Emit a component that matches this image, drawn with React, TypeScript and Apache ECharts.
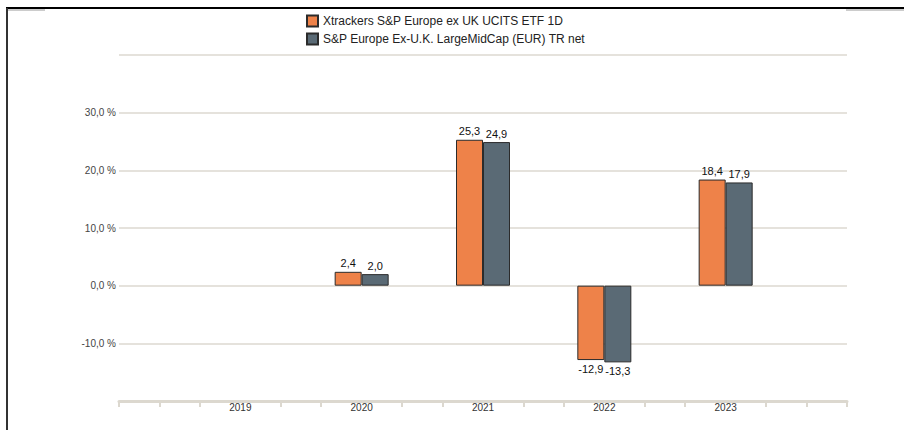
import React, { useEffect, useRef } from "react";
import * as echarts from "echarts";

const categories = ["", "2019", "2020", "2021", "2022", "2023", ""];
const seriesNames = [
  "Xtrackers S&P Europe ex UK UCITS ETF 1D",
  "S&P Europe Ex-U.K. LargeMidCap (EUR) TR net",
];
const etfValues: (number | null)[] = [null, null, 2.4, 25.3, -12.9, 18.4, null];
const indexValues: (number | null)[] = [null, null, 2.0, 24.9, -13.3, 17.9, null];
const colors = ["#ee8249", "#5a6a75"];
const yMin = -20;
const yMax = 40;
const yInterval = 10;
const tickSlots = Array.from({ length: 19 }, (_, i) => String(i));

const FONT = "'Liberation Sans', Arial, Helvetica, sans-serif";

const fmt = (v: number) => v.toFixed(1).replace(".", ",");

function makeData(vals: (number | null)[]) {
  return vals.map((v) =>
    v === null
      ? null
      : { value: v, label: { position: v < 0 ? "bottom" : "top" } }
  );
}

export default function App() {
  const ref = useRef<HTMLDivElement>(null);
  useEffect(() => {
    if (!ref.current) return;
    const chart = echarts.init(ref.current, undefined, { renderer: "svg" });
    const mkSeries = (i: number, vals: (number | null)[]) => ({
      name: seriesNames[i],
      type: "bar",
      xAxisIndex: 0,
      yAxisIndex: 0,
      data: makeData(vals),
      barWidth: 27,
      barGap: "0%",
      itemStyle: { color: colors[i], borderColor: "#2b2b2b", borderWidth: 1 },
      label: {
        show: true,
        distance: 3,
        color: "#111",
        fontSize: 11,
        fontFamily: FONT,
        formatter: (p: any) => fmt(p.value),
      },
    });
    chart.setOption({
      animation: false,
      textStyle: { fontFamily: FONT },
      legend: {
        orient: "vertical",
        left: 301,
        top: 9,
        itemWidth: 11,
        itemHeight: 11,
        itemGap: 4,
        icon: "rect",
        textStyle: { fontSize: 12, color: "#222", fontFamily: FONT, lineHeight: 14 },
        data: seriesNames,
      },
      grid: { left: 119, right: 57, top: 55, bottom: 29, containLabel: false },
      xAxis: [
        {
          type: "category",
          data: categories,
          boundaryGap: false,
          axisLine: { show: true, onZero: false, lineStyle: { color: "#dcd8cf", width: 3 } },
          axisTick: { show: false },
          axisLabel: { margin: 1, fontSize: 10, color: "#333", fontFamily: FONT, interval: 0 },
          splitLine: { show: false },
        },
        {
          type: "category",
          data: tickSlots,
          boundaryGap: false,
          position: "bottom",
          axisLine: { show: false, onZero: false },
          axisLabel: { show: false },
          axisTick: {
            show: true,
            inside: false,
            length: 6,
            interval: (index: number) => index % 3 !== 0 || index === 0 || index === 18,
            lineStyle: { color: "#dcd8cf", width: 2 },
          },
          splitLine: { show: false },
        },
      ],
      yAxis: {
        type: "value",
        min: yMin,
        max: yMax,
        interval: yInterval,
        axisLine: { show: false },
        axisTick: { show: false },
        axisLabel: {
          margin: 3,
          fontSize: 10,
          color: "#444",
          fontFamily: FONT,
          formatter: (v: number) => (v === yMin || v === yMax ? "" : fmt(v) + " %"),
        },
        splitLine: { show: true, lineStyle: { color: "#e5e2dc", width: 2 } },
      },
      series: [mkSeries(0, etfValues), mkSeries(1, indexValues)],
      graphic: [
        { type: "line", shape: { x1: 6, y1: 8, x2: 904, y2: 8 }, style: { stroke: "#000", lineWidth: 2 }, z: 100 },
        { type: "line", shape: { x1: 8, y1: 10, x2: 45, y2: 10 }, style: { stroke: "#999", lineWidth: 1 }, z: 100 },
        { type: "line", shape: { x1: 846, y1: 10, x2: 904, y2: 10 }, style: { stroke: "#999", lineWidth: 1 }, z: 100 },
        { type: "line", shape: { x1: 7, y1: 8, x2: 7, y2: 430 }, style: { stroke: "#333", lineWidth: 2 }, z: 100 },
      ],
    });
    return () => chart.dispose();
  }, []);
  return (
    <div
      ref={ref}
      style={{ position: "fixed", left: 0, top: 0, width: 904, height: 430, background: "#fff" }}
    />
  );
}
